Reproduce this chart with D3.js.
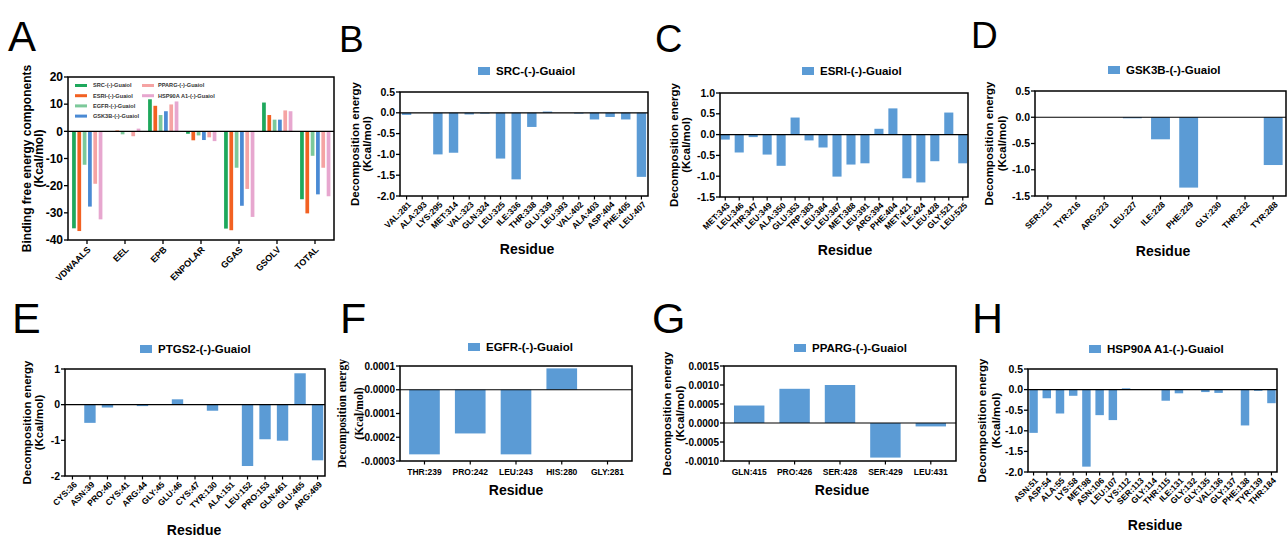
<!DOCTYPE html>
<html>
<head>
<meta charset="utf-8">
<script src="https://cdn.jsdelivr.net/npm/d3@7"></script>
<style>
body{margin:0;background:#fff}
svg text{font-family:"Liberation Sans",Arial,sans-serif;font-weight:bold;fill:#000}
</style>
</head>
<body>
<script>
// panel A data
var energyTerms = ["VDWAALS","EEL","EPB","ENPOLAR","GGAS","GSOLV","TOTAL"]
var complexes = ["SRC-(-)-Guaiol","ESRI-(-)-Guaiol","EGFR-(-)-Guaiol","GSK3B-(-)-Guaiol","PPARG-(-)-Guaiol","HSP90A A1-(-)-Guaiol"]
var complexColors = ["#1ea85c","#f26122","#7cc99a","#4a8ad4","#f5a3a3","#e7a7cf"]
var srcEnergy = [-35.7,-0.1,11.8,-0.9,-35.8,10.6,-25.0]
var esriEnergy = [-36.7,0.3,9.4,-3.3,-36.4,6.0,-30.2]
var egfrEnergy = [-12.3,-1.1,6.0,-1.5,-13.4,4.3,-9.0]
var gsk3bEnergy = [-27.7,0,7.4,-3.2,-27.4,4.3,-23.2]
var ppargEnergy = [-19.3,-1.8,9.9,-2.2,-21.2,7.7,-13.4]
var hspEnergy = [-32.4,1.0,11.0,-3.6,-31.5,7.4,-23.9]
var energyTicks = [20,10,0,-10,-20,-30,-40]

// decomposition data
var srcResidues = ["VAL:281","ALA:293","LYS:295","MET:314","VAL:323","GLN:324","LEU:325","ILE:336","THR:338","GLU:339","LEU:393","VAL:402","ALA:403","ASP:404","PHE:405","LEU:407"]
var srcDecomp = [-0.05,0,-1.0,-0.96,-0.04,-0.02,-1.1,-1.6,-0.34,0.03,0,-0.02,-0.16,-0.1,-0.16,-1.54]
var srcTicks = [0.5,0.0,-0.5,-1.0,-1.5,-2.0]

var esriResidues = ["MET:343","LEU:346","THR:347","LEU:349","ALA:350","GLU:353","TRP:383","LEU:384","LEU:387","MET:388","LEU:391","ARG:394","PHE:404","MET:421","ILE:424","LEU:428","GLY:521","LEU:525"]
var esriDecomp = [-0.12,-0.43,-0.06,-0.48,-0.75,0.41,-0.14,-0.31,-1.01,-0.72,-0.69,0.14,0.63,-1.05,-1.15,-0.64,0.53,-0.69]
var esriTicks = [1.0,0.5,0.0,-0.5,-1.0,-1.5]

var gskResidues = ["SER:215","TYR:216","ARG:223","LEU:227","ILE:228","PHE:229","GLY:230","THR:232","TYR:288"]
var gskDecomp = [0,0,0,-0.02,-0.42,-1.34,0,0,-0.91]
var gskTicks = [0.5,0.0,-0.5,-1.0,-1.5]

var ptgsResidues = ["CYS:36","ASN:39","PRO:40","CYS:41","ARG:44","GLY:45","GLU:46","CYS:47","TYR:130","ALA:151","LEU:152","PRO:153","GLN:461","GLU:465","ARG:469"]
var ptgsDecomp = [0,-0.51,-0.08,0,-0.04,0,0.15,0,-0.17,0,-1.72,-0.97,-1.01,0.88,-1.56]
var ptgsTicks = [1,0,-1,-2]

var egfrResidues = ["THR:239","PRO:242","LEU:243","HIS:280","GLY:281"]
var egfrDecomp = [-0.000272,-0.000184,-0.000272,0.00009,0]
var egfrTicks = [0.0001,0,-0.0001,-0.0002,-0.0003]

var ppargResidues = ["GLN:415","PRO:426","SER:428","SER:429","LEU:431"]
var ppargDecomp = [0.00046,0.0009,0.001,-0.00091,-0.00009]
var ppargTicks = [0.0015,0.001,0.0005,0,-0.0005,-0.001]

var hspResidues = ["ASN:51","ASP:54","ALA:55","LYS:58","MET:98","ASN:106","LEU:107","LYS:112","SER:113","GLY:114","THR:115","ILE:131","GLY:132","GLY:135","VAL:136","GLY:137","PHE:138","TYR:139","THR:184"]
var hspDecomp = [-1.05,-0.21,-0.58,-0.15,-1.87,-0.62,-0.74,0.03,0,0,-0.27,-0.09,0,-0.06,-0.08,0,-0.87,-0.03,-0.33]
var hspTicks = [0.5,0.0,-0.5,-1.0,-1.5,-2.0]

var barColor = "#5b9bd5"

var svg = d3.select("body").append("svg").attr("width",1287).attr("height",537)

function litera(t, x, y, size) {
	svg.append("text").attr("x",x).attr("y",y).text(t)
		.style("font-weight","normal").style("font-size",size+"px")
}

function opisY(lines, xs, cy, size, serif) {
	lines.forEach(function(l,i){
		var t = svg.append("text")
			.attr("transform","translate("+xs[i]+","+cy+") rotate(-90)")
			.attr("text-anchor","middle").attr("dy","0.35em")
			.style("font-size",size+"px").text(l)
		if(serif) t.style("font-family","'Liberation Serif','Times New Roman',serif")
	})
}

// ---------- panel A ----------
var A = {l:68, r:334, t:77, b:240}
var energySeries = [srcEnergy, esriEnergy, egfrEnergy, gsk3bEnergy, ppargEnergy, hspEnergy]
var xA = d3.scaleBand().domain(energyTerms).range([A.l, A.r])
var xA2 = d3.scaleBand().domain(complexes).range([2.5, xA.bandwidth()-2]).padding(0.3)
var yA = d3.scaleLinear().domain([-40,20]).range([A.b, A.t])
var gA = svg.append("g")
energySeries.forEach(function(s, k){
	gA.selectAll(null).data(s).enter().append("rect")
		.attr("x", function(d,i){return xA(energyTerms[i]) + xA2(complexes[k])})
		.attr("width", xA2.bandwidth())
		.attr("y", function(d){return yA(Math.max(0,d))})
		.attr("height", function(d){return Math.abs(yA(d)-yA(0))})
		.attr("fill", complexColors[k])
})
gA.append("line").attr("x1",A.l).attr("x2",A.r).attr("y1",yA(0)).attr("y2",yA(0))
	.attr("stroke","#000").attr("stroke-width",1.2)
gA.append("rect").attr("x",A.l).attr("y",A.t).attr("width",A.r-A.l).attr("height",A.b-A.t)
	.attr("fill","none").attr("stroke","#000").attr("stroke-width",1.5)
energyTicks.forEach(function(v){
	gA.append("line").attr("x1",A.l-4).attr("x2",A.l).attr("y1",yA(v)).attr("y2",yA(v)).attr("stroke","#000").attr("stroke-width",1.3)
	gA.append("text").attr("x",A.l-5).attr("y",yA(v)).attr("dy","0.35em").attr("text-anchor","end")
		.style("font-size","12px").text(v)
})
energyTerms.forEach(function(c){
	var cx = xA(c)+xA.bandwidth()/2
	gA.append("line").attr("x1",cx).attr("x2",cx).attr("y1",A.b).attr("y2",A.b+4).attr("stroke","#000").attr("stroke-width",1.3)
	gA.append("text").attr("transform","translate("+(cx+2)+","+(A.b+8)+") rotate(-45)")
		.attr("text-anchor","end").attr("dy","0.35em").style("font-size","9px").text(c)
})
// legend A
complexes.forEach(function(c,k){
	var col = k<4 ? 0 : 1
	var row = k<4 ? k : k-4
	var lx = col===0 ? 75 : 142
	var ly = 85.5 + row*10.2
	gA.append("rect").attr("x",lx).attr("y",ly-1.5).attr("width",12).attr("height",3).attr("fill",complexColors[k])
	gA.append("text").attr("x",lx+(col===0?18:16)).attr("y",ly).attr("dy","0.35em")
		.style("font-size","5.6px").style("fill","#333").text(c)
})
opisY(["Binding free energy components","(Kcal/mol)"],[27,39],(A.t+A.b)/2,12)
litera("A",8,51,42)

// ---------- decomposition panels ----------
function panel(p) {
	var g = svg.append("g")
	var x = d3.scaleBand().domain(p.residues).range([p.l, p.r]).paddingInner(p.inner).paddingOuter(p.outer)
	var y = d3.scaleLinear().domain(p.domain).range([p.b, p.t])
	g.selectAll(null).data(p.values).enter().append("rect")
		.attr("x", function(d,i){return x(p.residues[i])})
		.attr("width", x.bandwidth())
		.attr("y", function(d){return y(Math.max(0,d))})
		.attr("height", function(d){return Math.abs(y(d)-y(0))})
		.attr("fill", barColor)
	g.append("line").attr("x1",p.l).attr("x2",p.r).attr("y1",y(0)).attr("y2",y(0))
		.attr("stroke","#000").attr("stroke-width",1.2)
	g.append("rect").attr("x",p.l).attr("y",p.t).attr("width",p.r-p.l).attr("height",p.b-p.t)
		.attr("fill","none").attr("stroke","#000").attr("stroke-width",1.5)
	var f = d3.format(p.fmt)
	p.ticks.forEach(function(v){
		g.append("line").attr("x1",p.l-4).attr("x2",p.l).attr("y1",y(v)).attr("y2",y(v)).attr("stroke","#000").attr("stroke-width",1.3)
		g.append("text").attr("x",p.l-5).attr("y",y(v)).attr("dy","0.35em").attr("text-anchor","end")
			.style("font-size",p.tickSize+"px").text(f(v).replace("−","-"))
	})
	p.residues.forEach(function(r){
		var cx = x(r)+x.bandwidth()/2
		g.append("line").attr("x1",cx).attr("x2",cx).attr("y1",p.b).attr("y2",p.b+3.5).attr("stroke","#000").attr("stroke-width",1.2)
		if(p.rotate)
			g.append("text").attr("transform","translate("+(cx+3)+","+(p.b+7)+") rotate(-45)")
				.attr("text-anchor","end").attr("dy","0.35em").style("font-size","8.5px").text(r)
		else
			g.append("text").attr("x",cx).attr("y",p.b+14).attr("text-anchor","middle")
				.style("font-size","8.5px").text(r)
	})
	g.append("rect").attr("x",p.legX).attr("y",p.legY-8).attr("width",12).attr("height",8).attr("fill",barColor)
	g.append("text").attr("x",p.legX+18).attr("y",p.legY).style("font-size","11.5px").text(p.title)
	g.append("text").attr("x",p.resX).attr("y",p.resY).attr("text-anchor","middle").style("font-size","14px").text("Residue")
	opisY(["Decomposition energy","(Kcal/mol)"], p.labX, (p.t+p.b)/2, 11.5, p.serif)
	litera(p.letter, p.letX, p.letY, p.letSize)
}

panel({residues:srcResidues, values:srcDecomp, ticks:srcTicks, domain:[-2,0.5], fmt:".1f", tickSize:10.5,
	l:400, r:648, t:92, b:196, inner:0.4, outer:0.12, rotate:true, title:"SRC-(-)-Guaiol",
	legX:478, legY:75, resX:527, resY:254, labX:[355,367], letter:"B", letX:339, letY:52, letSize:37})
panel({residues:esriResidues, values:esriDecomp, ticks:esriTicks, domain:[-1.5,1], fmt:".1f", tickSize:10.5,
	l:720, r:968, t:93, b:197, inner:0.35, outer:0.05, rotate:true, title:"ESRI-(-)-Guaiol",
	legX:802, legY:75, resX:845, resY:255, labX:[674,686], letter:"C", letX:655, letY:52, letSize:38})
panel({residues:gskResidues, values:gskDecomp, ticks:gskTicks, domain:[-1.5,0.5], fmt:".1f", tickSize:10.5,
	l:1035, r:1286, t:91, b:196, inner:0.33, outer:0.12, rotate:true, title:"GSK3B-(-)-Guaiol",
	legX:1108, legY:74, resX:1163, resY:256, labX:[989,1002], letter:"D", letX:971, letY:48, letSize:37})
panel({residues:ptgsResidues, values:ptgsDecomp, ticks:ptgsTicks, domain:[-2,1], fmt:"d", tickSize:10.5,
	l:65, r:325, t:369, b:476, inner:0.35, outer:0.1, rotate:true, title:"PTGS2-(-)-Guaiol",
	legX:140, legY:353, resX:194, resY:535, labX:[27,39], letter:"E", letX:12, letY:333, letSize:43})
panel({residues:egfrResidues, values:egfrDecomp, ticks:egfrTicks, domain:[-0.0003,0.0001], fmt:".4f", tickSize:10,
	l:400, r:632, t:366, b:461, inner:0.33, outer:0.2, rotate:false, serif:true, title:"EGFR-(-)-Guaiol",
	legX:468, legY:351, resX:516, resY:495, labX:[342,359], letter:"F", letX:340, letY:333, letSize:43})
panel({residues:ppargResidues, values:ppargDecomp, ticks:ppargTicks, domain:[-0.001,0.0015], fmt:".4f", tickSize:10,
	l:724, r:956, t:366, b:461, inner:0.33, outer:0.22, rotate:false, title:"PPARG-(-)-Guaiol",
	legX:794, legY:352, resX:842, resY:495, labX:[667,680], letter:"G", letX:652, letY:333, letSize:43})
panel({residues:hspResidues, values:hspDecomp, ticks:hspTicks, domain:[-2,0.5], fmt:".1f", tickSize:10.5,
	l:1028, r:1277, t:369, b:472, inner:0.36, outer:0.1, rotate:true, title:"HSP90A A1-(-)-Guaiol",
	legX:1089, legY:353, resX:1155, resY:530, labX:[982,996], letter:"H", letX:972, letY:333, letSize:43})
</script>
</body>
</html>
